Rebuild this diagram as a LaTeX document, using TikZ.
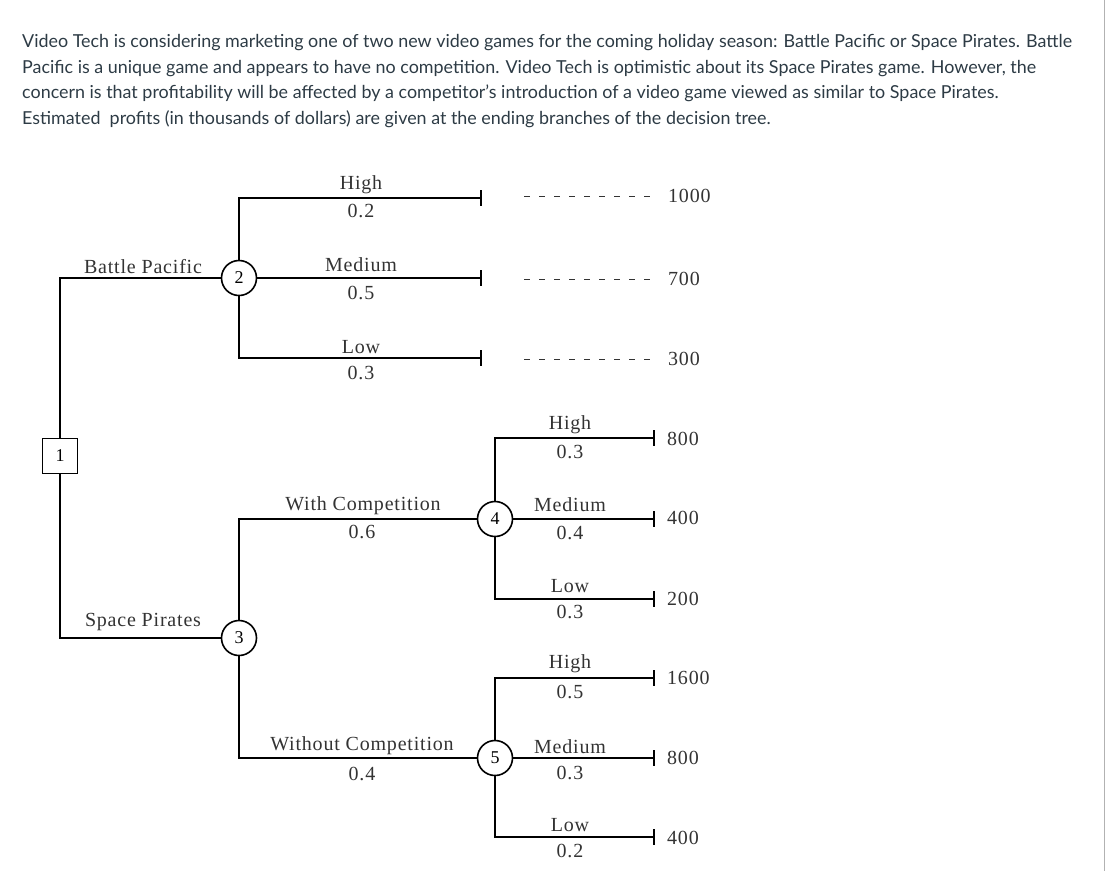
\documentclass[tikz,border=0pt]{standalone}
\usepackage{fontspec}
\setmainfont[LetterSpace=4]{Liberation Serif}
\newfontfamily\latofont{Lato}
\usetikzlibrary{arrows.meta}
\definecolor{canvastext}{HTML}{2D3B45}
\definecolor{treetext}{HTML}{333333}

\begin{document}
\begin{tikzpicture}[x=1pt,y=-1pt,
  line/.style={line width=1.7pt},
  branch/.style={line width=1.7pt,-{Bar[width=16pt,line width=1.6pt]}},
  chance/.style={circle,draw,line width=1.6pt,minimum size=35pt,inner sep=0pt,fill=white,font=\fontsize{18}{18}\selectfont},
  decision/.style={rectangle,draw,line width=1.7pt,minimum size=35pt,inner sep=0pt,fill=white,font=\fontsize{18}{18}\selectfont},
  lbl/.style={text=treetext,inner sep=0pt,font=\fontsize{20}{22}\selectfont},
  payoff/.style={lbl,anchor=west},
  dashes/.style={line width=1pt,draw=treetext,dash pattern=on 6pt off 9pt,shorten >=12pt},
  para/.style={anchor=base west,inner sep=0pt,text=canvastext,font=\latofont\fontsize{17.9}{20}\selectfont}]
\useasboundingbox (0,0) rectangle (1109,871);
\draw[gray!60,line width=1.2pt] (1104.5,0) -- (1104.5,871);

% question text
\node[para] (q1) at (22,47) {Video Tech is considering marketing one of two new video games for the coming holiday season: Battle Pacific or Space Pirates. Battle};
\node[para] (q2) at (22,73) {Pacific is a unique game and appears to have no competition. Video Tech is optimistic about its Space Pirates game. However, the};
\node[para] (q3) at (22,98) {concern is that profitability will be affected by a competitor’s introduction of a video game viewed as similar to Space Pirates.};
\node[para] (q4) at (22,124) {Estimated\ \ profits (in thousands of dollars) are given at the ending branches of the decision tree.};

% decision and chance nodes
\node[decision] (d1) at (60,456) {1};
\node[chance] (c2) at (239,278) {2};
\node[chance] (c3) at (239,638) {3};
\node[chance] (c4) at (495,519) {4};
\node[chance] (c5) at (495,758) {5};

% branch ends
\coordinate (e21) at (482,198);
\coordinate (e22) at (482,278);
\coordinate (e23) at (482,358);
\coordinate (e41) at (655,438);
\coordinate (e42) at (655,519);
\coordinate (e43) at (655,599);
\coordinate (e51) at (655,678);
\coordinate (e52) at (655,758);
\coordinate (e53) at (655,837);

% decision branches
\draw[line] (d1) |- (c2);
\draw[line width=2.8pt] (d1) |- (c3);
\draw[line width=1.3pt] (c3) |- (c4);
\draw[line] (c3) |- (c5);

% outcome branches
\draw[branch] (c2) |- (e21);
\draw[branch] (c2) -- (e22);
\draw[branch] (c2) |- (e23);
\draw[branch] (c4) |- (e41);
\draw[branch] (c4) -- (e42);
\draw[branch] (c4) |- (e43);
\draw[branch] (c5) |- (e51);
\draw[branch] (c5) -- (e52);
\draw[branch] (c5) |- (e53);

% labels
\node[lbl] (bp) at (143,267) {Battle Pacific};
\node[lbl] (sp) at (143,622) {Space Pirates};
\node[lbl] (h2) at (361,185) {High};
\node[lbl] (ph2) at (361,211) {0.2};
\node[lbl] (m2) at (361,265) {Medium};
\node[lbl] (pm2) at (361,293) {0.5};
\node[lbl] (l2) at (361,347) {Low};
\node[lbl] (pl2) at (361,373) {0.3};
\node[lbl] (wc) at (363,506) {With Competition};
\node[lbl] (pwc) at (362,532) {0.6};
\node[lbl] (nc) at (362,746) {Without Competition};
\node[lbl] (pnc) at (362,774) {0.4};
\node[lbl] (h4) at (570,425) {High};
\node[lbl] (ph4) at (570,452) {0.3};
\node[lbl] (m4) at (570,505) {Medium};
\node[lbl] (pm4) at (570,533) {0.4};
\node[lbl] (l4) at (570,586) {Low};
\node[lbl] (pl4) at (570,612) {0.3};
\node[lbl] (h5) at (570,664) {High};
\node[lbl] (ph5) at (570,692) {0.5};
\node[lbl] (m5) at (570,747) {Medium};
\node[lbl] (pm5) at (570,773) {0.3};
\node[lbl] (l5) at (570,825) {Low};
\node[lbl] (pl5) at (570,851) {0.2};

% payoffs
\node[payoff] (v21) at (668,196) {1000};
\node[payoff] (v22) at (668,279) {700};
\node[payoff] (v23) at (668,359) {300};
\node[payoff] (v41) at (667,439) {800};
\node[payoff] (v42) at (667,518) {400};
\node[payoff] (v43) at (667,599) {200};
\node[payoff] (v51) at (667,678) {1600};
\node[payoff] (v52) at (667,758) {800};
\node[payoff] (v53) at (667,838) {400};

\coordinate (g21) at (524,196);
\coordinate (g22) at (524,279);
\coordinate (g23) at (524,359);
\draw[dashes] (g21) -- (v21);
\draw[dashes] (g22) -- (v22);
\draw[dashes] (g23) -- (v23);
\end{tikzpicture}
\end{document}
